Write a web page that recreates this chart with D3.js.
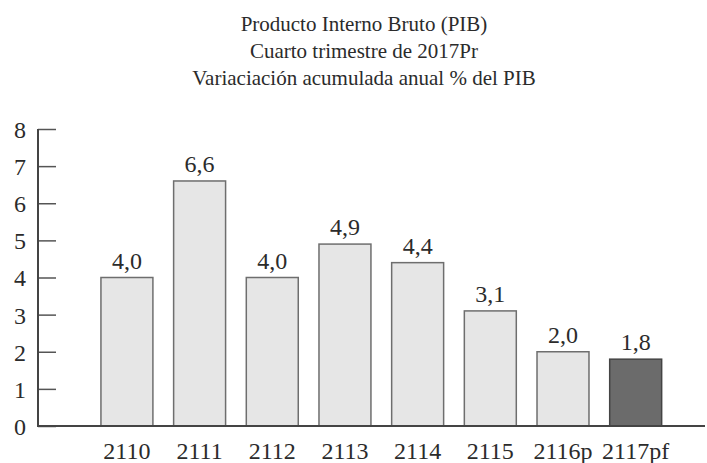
<!DOCTYPE html>
<html>
<head>
<meta charset="utf-8">
<script src="https://cdnjs.cloudflare.com/ajax/libs/d3/7.8.5/d3.min.js"></script>
<style>
	body { margin: 0; background: #fff; }
</style>
</head>
<body>
<div id="chart"></div>
<script>

// data
let categories = ["2110", "2111", "2112", "2113", "2114", "2115", "2116p", "2117pf"];
let values = [4.0, 6.6, 4.0, 4.9, 4.4, 3.1, 2.0, 1.8];
let yTicks = [0, 1, 2, 3, 4, 5, 6, 7, 8];
let titleLines = ["Producto Interno Bruto (PIB)", "Cuarto trimestre de 2017Pr", "Variaciación acumulada anual % del PIB"];

let width = 707, height = 463;
let serif = "'Liberation Serif', 'DejaVu Serif', serif";
let textColor = "#2b2b2b";

let svg = d3.select("#chart").append("svg")
	.attr("width", width)
	.attr("height", height)
	.attr("font-family", serif);

// title
svg.append("g")
	.selectAll("text")
	.data(titleLines)
	.enter()
	.append("text")
	.attr("x", 364)
	.attr("y", (d, i) => 31 + i * 27)
	.attr("text-anchor", "middle")
	.attr("font-family", serif)
	.attr("font-size", 21)
	.attr("fill", textColor)
	.text(d => d);

// scales
let x = d3.scaleBand()
	.domain(categories)
	.range([64.6, 698])
	.paddingInner(0.285)
	.paddingOuter(0.5);

let y = d3.scaleLinear()
	.domain([0, 8])
	.range([426, 129]);

let axisX = 38;

// y axis with inward ticks
let yAxis = d3.axisRight(y)
	.tickValues(yTicks)
	.tickSize(18)
	.tickFormat(d3.format("d"));

let gy = svg.append("g")
	.attr("transform", "translate(" + axisX + ",0)")
	.call(yAxis)
	.attr("font-family", serif)
	.attr("font-size", 24);
gy.select(".domain").remove();
gy.selectAll(".tick line").attr("stroke", "#555").attr("stroke-width", 1.5);
gy.selectAll(".tick text")
	.attr("x", -12)
	.attr("text-anchor", "end")
	.attr("dy", "0.35em")
	.attr("fill", textColor);

// bars
svg.selectAll(".bar")
	.data(values)
	.enter()
	.append("rect")
	.attr("class", "bar")
	.attr("x", (d, i) => x(categories[i]))
	.attr("y", d => y(d))
	.attr("width", x.bandwidth())
	.attr("height", d => y(0) - y(d))
	.attr("fill", (d, i) => i === values.length - 1 ? "#6b6b6b" : "#e6e6e6")
	.attr("stroke", (d, i) => i === values.length - 1 ? "#444" : "#6e6e6e")
	.attr("stroke-width", 1.5);

// bar labels
svg.selectAll(".label")
	.data(values)
	.enter()
	.append("text")
	.attr("class", "label")
	.attr("x", (d, i) => x(categories[i]) + x.bandwidth() / 2)
	.attr("y", d => y(d) - 9)
	.attr("text-anchor", "middle")
	.attr("font-family", serif)
	.attr("font-size", 24)
	.attr("fill", textColor)
	.text(d => d.toFixed(1).replace(".", ","));

// axis lines
svg.append("line")
	.attr("x1", axisX).attr("x2", axisX)
	.attr("y1", y(8)).attr("y2", y(0))
	.attr("stroke", "#444").attr("stroke-width", 2);

svg.append("line")
	.attr("x1", axisX - 1).attr("x2", 705)
	.attr("y1", y(0)).attr("y2", y(0))
	.attr("stroke", "#444").attr("stroke-width", 2);

// x labels
svg.selectAll(".xlabel")
	.data(categories)
	.enter()
	.append("text")
	.attr("class", "xlabel")
	.attr("x", d => x(d) + x.bandwidth() / 2)
	.attr("y", 459)
	.attr("text-anchor", "middle")
	.attr("font-family", serif)
	.attr("font-size", 24)
	.attr("fill", textColor)
	.text(d => d);

</script>
</body>
</html>
